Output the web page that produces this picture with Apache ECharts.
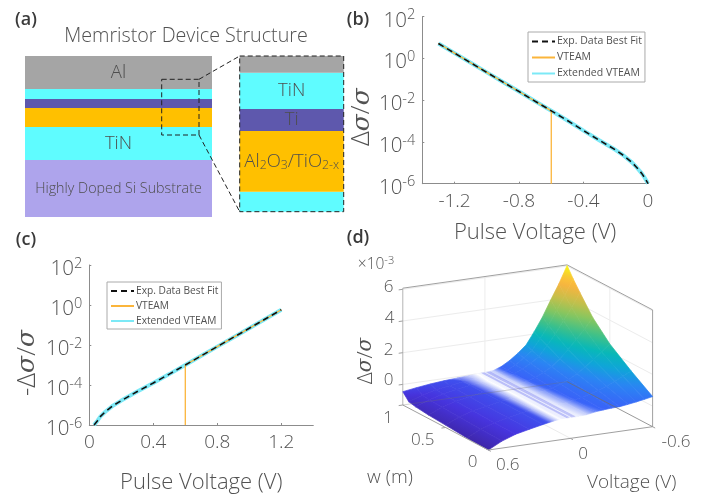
<!DOCTYPE html>
<html><head><meta charset="utf-8">
<style>html,body{margin:0;padding:0;background:#fff}#c{width:717px;height:495px}</style>
<script src="https://cdn.jsdelivr.net/npm/echarts@6/dist/echarts.min.js"></script>
</head><body><div id="c"></div>
<script>
// ---------- panel (b) ----------
const bVoltages=[-1.3,-1.2,-1.1,-1.0,-0.9,-0.8,-0.7,-0.6,-0.5,-0.4,-0.3,-0.2,-0.15,-0.1,-0.07,-0.04,-0.02,-0.005,0];
const bResponse=[5.2,1.8,0.62,0.215,0.074,0.026,0.0089,0.0031,0.00107,0.00035,0.000118,0.000041,0.000022,0.0000105,0.000006,0.0000032,0.0000019,0.0000012,0.000001];
const bVteamVoltages=[-1.3,-1.2,-1.1,-1.0,-0.9,-0.8,-0.7,-0.6,-0.6];
const bVteam=[5.2,1.8,0.62,0.215,0.074,0.026,0.0089,0.0031,0.000001];
const bTicks=[-1.2,-0.8,-0.4,0];
// ---------- panel (c) ----------
const cVoltages=[0.03,0.05,0.07,0.1,0.15,0.2,0.3,0.4,0.5,0.6,0.7,0.8,0.9,1.0,1.1,1.2];
const cResponse=[0.000001,0.0000016,0.0000027,0.0000046,0.0000095,0.0000166,0.000047,0.000126,0.00035,0.001,0.0029,0.0083,0.024,0.069,0.2,0.58];
const cVteamVoltages=[0.6,0.6,0.7,0.8,0.9,1.0,1.1,1.2];
const cVteam=[0.000001,0.001,0.0029,0.0083,0.024,0.069,0.2,0.58];
const cTicks=[0,0.4,0.8,1.2];
// ---------- panel (a) ----------
const stackNames=['Highly Doped Si Substrate','TiN','Al2O3/TiO2-x','Ti','TiN top','Al'];
const stackThickness=[57,33,19,9,10,33];
const insetNames=['TiN bottom','Oxide','Ti inset','TiN inset','Al inset'];
const insetThickness=[20,60.7,22,36.3,16.7];
// ---------- panel (d) ----------
const surfaceVoltages=[-0.6,-0.54,-0.48,-0.42,-0.36,-0.3,-0.24,-0.18,-0.12,-0.06,-0.02,0.02,0.06,0.12,0.2,0.3,0.4,0.5,0.6];
const surfaceWidths=[0,0.25,0.5,0.7,0.85,0.93,1];
const surfaceValues=[
[0.6,1.5,2.5,3.6,4.75,5.4,6.03],
[0.5,1.24,2.06,2.95,3.88,4.42,4.95],
[0.41,1.01,1.67,2.38,3.14,3.57,4.0],
[0.33,0.77,1.26,1.8,2.36,2.68,3.0],
[0.26,0.57,0.92,1.3,1.7,1.92,2.15],
[0.24,0.42,0.62,0.86,1.09,1.23,1.38],
[0.2,0.28,0.42,0.57,0.73,0.83,0.93],
[0.15,0.19,0.24,0.33,0.44,0.49,0.55],
[0.05,0.09,0.13,0.17,0.21,0.23,0.25],
[0.02,0.03,0.04,0.05,0.06,0.06,0.06],
[0.01,0.01,0.02,0.02,0.03,0.03,0.03],
[0.02,0.02,0.02,0.02,0.02,0.02,0.02],
[0.02,0.02,0.01,0.01,0.01,0.0,0.0],
[-0.05,-0.05,-0.05,-0.05,-0.04,-0.04,-0.04],
[-0.18,-0.17,-0.15,-0.13,-0.12,-0.11,-0.08],
[-0.36,-0.35,-0.32,-0.3,-0.27,-0.25,-0.14],
[-0.55,-0.53,-0.49,-0.46,-0.43,-0.39,-0.22],
[-0.86,-0.83,-0.76,-0.72,-0.66,-0.61,-0.33],
[-1.3,-1.25,-1.15,-1.08,-0.99,-0.9,-0.46]];
const stripeVoltages=[-0.036,-0.028,-0.02,-0.012,0.008,0.016,0.024];
const zTicks=[0,2,4,6];

const FONT='"Open Sans",sans-serif', TXT='#525252';
// projection of the panel (d) box to the page
const O=[488.3,450],EV=[164.3,-23.3],EW=[-85.5,-45],ZMIN=-1.3,ZMAX=6.07,ZPX=15.85;
function proj(v,w,z){const t=(0.6-v)/1.2;return [O[0]+t*EV[0]+w*EW[0],O[1]+t*EV[1]+w*EW[1]-(z-ZMIN)*ZPX];}
const parula=[[0,[62,38,168]],[.1,[70,52,222]],[.2,[58,98,248]],[.3,[42,133,243]],[.38,[15,165,216]],[.46,[8,184,184]],[.55,[61,192,138]],[.65,[134,198,95]],[.75,[198,191,74]],[.86,[251,180,63]],[.93,[248,208,48]],[1,[249,251,14]]];
function colorAt(z){
  const f=Math.max(0,Math.min(1,(z-ZMIN)/(ZMAX-ZMIN)));
  let k=0;while(k<parula.length-2&&f>parula[k+1][0])k++;
  const a=parula[k],b=parula[k+1],u=(f-a[0])/(b[0]-a[0]);
  const c=a[1].map((x,i)=>x+(b[1][i]-x)*u);
  const white=z<0?1-Math.min(1,-z/0.12):1-Math.min(1,z/0.2);
  return 'rgb('+c.map(x=>Math.round(x+(255-x)*white)).join(',')+')';
}
function cellStyle(ps,zs){
  const du=[(ps[1][0]+ps[2][0]-ps[0][0]-ps[3][0])/2,(ps[1][1]+ps[2][1]-ps[0][1]-ps[3][1])/2],dzu=(zs[1]+zs[2]-zs[0]-zs[3])/2;
  const dv=[(ps[2][0]+ps[3][0]-ps[0][0]-ps[1][0])/2,(ps[2][1]+ps[3][1]-ps[0][1]-ps[1][1])/2],dzv=(zs[2]+zs[3]-zs[0]-zs[1])/2;
  const det=du[0]*dv[1]-du[1]*dv[0];
  const a=(dzu*dv[1]-dzv*du[1])/det,b=(du[0]*dzv-dv[0]*dzu)/det,g=Math.hypot(a,b);
  const c=[(ps[0][0]+ps[1][0]+ps[2][0]+ps[3][0])/4,(ps[0][1]+ps[1][1]+ps[2][1]+ps[3][1])/4],zc=(zs[0]+zs[1]+zs[2]+zs[3])/4;
  if(g<1e-6)return colorAt(zc);
  const n=[a/g,b/g],ts=ps.map(p=>(p[0]-c[0])*n[0]+(p[1]-c[1])*n[1]);
  const t0=Math.min(...ts),t1=Math.max(...ts),stops=[];
  for(let k=0;k<=6;k++){const t=t0+(t1-t0)*k/6;stops.push({offset:k/6,color:colorAt(zc+g*t)});}
  return new echarts.graphic.LinearGradient(c[0]+n[0]*t0,c[1]+n[1]*t0,c[0]+n[0]*t1,c[1]+n[1]*t1,stops,true);
}
const cells=[];
for(let j=surfaceWidths.length-2;j>=0;j--)for(let i=0;i<surfaceVoltages.length-1;i++)cells.push([i,j]);
function renderCell(p,api){
  const i=api.value(0),j=api.value(1);
  const corners=[[i,j],[i+1,j],[i+1,j+1],[i,j+1]];
  const zs=corners.map(q=>surfaceValues[q[0]][q[1]]);
  const ps=corners.map((q,k)=>proj(surfaceVoltages[q[0]],surfaceWidths[q[1]],zs[k]));
  const fill=cellStyle(ps,zs);
  return {type:'polygon',shape:{points:ps},style:{fill:fill,stroke:fill,lineWidth:0.7}};
}
function seg(a,b,c,d,e,f,color,w){return {a:proj(a,b,c),b:proj(d,e,f),color:color,w:w};}
const G='#a0a0a0',L='#ececec';
const backSegs=[];
zTicks.forEach(z=>{backSegs.push(seg(0.6,1,z,-0.6,1,z,L,1));backSegs.push(seg(-0.6,1,z,-0.6,0,z,L,1));});
backSegs.push(seg(0,1,ZMIN,0,1,ZMAX,L,1),seg(-0.6,0.5,ZMIN,-0.6,0.5,ZMAX,L,1),seg(0,1,ZMIN,0,0,ZMIN,L,1),seg(0.6,0.5,ZMIN,-0.6,0.5,ZMIN,L,1));
backSegs.push(seg(0.6,1,ZMAX,-0.6,1,ZMAX,G,1),seg(-0.6,1,ZMAX,-0.6,0,ZMAX,G,1),seg(0.6,1,ZMIN,0.6,1,ZMAX,'#b4b4b4',1),seg(-0.6,0,ZMIN,-0.6,0,ZMAX,G,1));
const frontSegs=[seg(0.6,1,ZMIN,0.6,0,ZMIN,G,1),seg(0.6,0,ZMIN,-0.6,0,ZMIN,G,1),
 seg(0.6,1,ZMIN,-0.6,1,ZMIN,'rgba(110,110,110,0.45)',0.7),seg(-0.6,1,ZMIN,-0.6,0,ZMIN,'rgba(110,110,110,0.7)',1)];
zTicks.forEach(z=>frontSegs.push(seg(0.6,1,z,0.63,1,z,G,1)));
[[0,0],[-0.6,0],[0.6,0]].forEach(q=>frontSegs.push(seg(q[0],0,ZMIN,q[0],-0.03,ZMIN,G,1)));
frontSegs.push(seg(0.6,0.5,ZMIN,0.63,0.5,ZMIN,G,1),seg(0.6,1,ZMIN,0.63,1,ZMIN,G,1));
stripeVoltages.forEach(v=>frontSegs.push(seg(v,0,0.02,v,1,0.02,'rgba(90,100,235,0.55)',0.5)));
const renderSeg=list=>(p,api)=>{const s=list[api.value(0)];return {type:'line',shape:{x1:s.a[0],y1:s.a[1],x2:s.b[0],y2:s.b[1]},style:{stroke:s.color,lineWidth:s.w,fill:null}};};

const toPairs=(x,y)=>x.map((v,i)=>[v,y[i]]);
const NAMES=['Exp. Data Best Fit','VTEAM','Extended VTEAM'];
function curves(gi,xs,ys,vx,vy){return [
  {name:NAMES[2],type:'line',xAxisIndex:gi,yAxisIndex:gi,data:toPairs(xs,ys),showSymbol:false,symbol:'none',z:3,lineStyle:{color:'#7ce9f6',width:4},itemStyle:{color:'#7ce9f6'}},
  {name:NAMES[1],type:'line',xAxisIndex:gi,yAxisIndex:gi,data:toPairs(vx,vy),showSymbol:false,symbol:'none',z:4,lineStyle:{color:'#fbb53b',width:1.3},itemStyle:{color:'#fbb53b'}},
  {name:NAMES[0],type:'line',xAxisIndex:gi,yAxisIndex:gi,data:toPairs(xs,ys),showSymbol:false,symbol:'none',z:5,lineStyle:{color:'#111',width:1.6,type:[6,4]},itemStyle:{color:'#111'}}];}
function legend(l,t,fs){return {data:NAMES,left:l,top:t,orient:'vertical',itemWidth:23,itemHeight:10,itemGap:5,padding:[4,3,3,3],selectedMode:false,
  itemStyle:{opacity:0,borderWidth:0},
  backgroundColor:'#fff',borderColor:'#aaa',borderWidth:1,borderRadius:0,textStyle:{fontFamily:FONT,fontSize:fs,color:TXT,padding:[0,0,0,-3]}};}
const supLabel=v=>{const e=Math.round(Math.log10(v));return '{a|10}{b|'+e+'}';};
const axisText={fontFamily:FONT,fontWeight:300,color:TXT};
function logAxis(gi,name,gap,shift){return {gridIndex:gi,type:'log',logBase:10,min:1e-6,max:100,interval:2,
  name:name,nameLocation:'middle',nameGap:gap,nameTextStyle:{padding:[0,shift,0,0],rich:{a:{fontFamily:FONT,fontSize:26,color:TXT,fontWeight:300},s:{fontFamily:'"DejaVu Serif",serif',fontStyle:'italic',fontSize:25,color:TXT}}},
  axisLine:{show:true,onZero:false,lineStyle:{color:'#8c8c8c',width:1}},axisTick:{show:true,inside:true,length:2,lineStyle:{color:'#8c8c8c'}},minorTick:{show:false},splitLine:{show:false},
  axisLabel:{margin:7,padding:[8,0,0,0],formatter:supLabel,rich:{a:{...axisText,fontSize:20.5},b:{...axisText,fontSize:14.5,padding:[0,0,11,0]}}}};}
function voltAxis(gi,min,max,ticks,gap){return {gridIndex:gi,type:'value',min:min,max:max,name:'Pulse Voltage (V)',nameLocation:'middle',nameGap:gap,
  nameTextStyle:{...axisText,fontSize:22},axisLine:{onZero:false,lineStyle:{color:'#8c8c8c',width:1}},splitLine:{show:false},
  axisTick:{show:true,inside:true,length:2,customValues:ticks,lineStyle:{color:'#8c8c8c'}},
  axisLabel:{...axisText,fontSize:19,margin:8,customValues:ticks,showMinLabel:true,showMaxLabel:true,formatter:v=>v===0?'0':v.toFixed(1)}};}
const hideX=gi=>({gridIndex:gi,type:'category',data:['stack'],show:false});
const hideY=(gi,max)=>({gridIndex:gi,type:'value',min:0,max:max,show:false});
const sum=a=>a.reduce((x,y)=>x+y,0);
const layerColors=['#aea4ec','#5ffcff','#ffc000','#5e58ad','#5ffcff','#a5a5a5'];
const insetColors=['#5ffcff','#ffc000','#5e58ad','#5ffcff','#a5a5a5'];
const layerLabel=(txt,size)=>({show:!!txt,position:'inside',formatter:txt,fontFamily:FONT,fontSize:size,color:'#4e4e4e',fontWeight:300,
  rich:{t:{fontFamily:FONT,fontSize:size,color:'#4e4e4e',fontWeight:300},s:{fontFamily:FONT,fontSize:size*0.66,color:'#4e4e4e',fontWeight:300,padding:[8,0,0,0]}}});
const mainLabels={'Highly Doped Si Substrate':['Highly Doped Si Substrate',14.3],'TiN':['TiN',18.5],'Al':['Al',18.5]};
const insetLabels={'TiN inset':['TiN',18.5],'Ti inset':['Ti',18.5],'Oxide':['{t|Al}{s|2}{t|O}{s|3}{t|/TiO}{s|2-x}',18.5]};
const barSeries=[];
stackNames.forEach((n,i)=>{const m=mainLabels[n]||[];barSeries.push({name:n,type:'bar',stack:'main',xAxisIndex:0,yAxisIndex:0,barWidth:'100%',data:[stackThickness[i]],itemStyle:{color:layerColors[i]},label:layerLabel(m[0],m[1]),silent:true});});
insetNames.forEach((n,i)=>{const m=insetLabels[n]||[];barSeries.push({name:n,type:'bar',stack:'inset',xAxisIndex:1,yAxisIndex:1,barWidth:'100%',data:[insetThickness[i]],itemStyle:{color:insetColors[i]},label:layerLabel(m[0],m[1]),silent:true});});

const dash={stroke:'#222',lineWidth:1,lineDash:[5,3]};
const T=(x,y,text,size,opt)=>({type:'text',z:20,x:x,y:y,style:Object.assign({text:text,fontFamily:FONT,fontSize:size,fontWeight:300,fill:TXT,align:'center',verticalAlign:'middle'},opt||{})});
const graphics=[
 T(26,20,'(a)',18,{fontWeight:600,fill:'#3a3a3a'}),T(358,20,'(b)',18,{fontWeight:600,fill:'#3a3a3a'}),
 T(26,240,'(c)',18,{fontWeight:600,fill:'#3a3a3a'}),T(358,238,'(d)',18,{fontWeight:600,fill:'#3a3a3a'}),
 T(186,36,'Memristor Device Structure',19.7),
 {type:'rect',z:20,shape:{x:161.7,y:79.3,width:37.3,height:55.7},style:{...dash,fill:null}},
 {type:'rect',z:20,shape:{x:239.7,y:56,width:104,height:155.7},style:{...dash,fill:null}},
 {type:'line',z:20,shape:{x1:199,y1:79.3,x2:239.7,y2:56},style:dash},
 {type:'line',z:20,shape:{x1:199,y1:135,x2:239.7,y2:211.7},style:dash},
 T(376,265,'{m|×10}{e|-3}',16,{rich:{m:{fontFamily:FONT,fontSize:15.5,fill:TXT,fontWeight:300},e:{fontFamily:FONT,fontSize:11,fill:TXT,fontWeight:300,padding:[0,0,8,0]}}}),
 T(388.7,287,'6',17),T(389.5,318,'4',17),T(388.7,350,'2',17),T(388.7,380,'0',17),
 T(388,418,'1',17),T(422.7,440,'0.5',17),T(472.7,462,'0',17),
 T(507.7,465,'0.6',17),T(583,454,'0',17),T(676,442,'-0.6',17),
 T(390,478,'w (m)',19),T(631.7,483,'Voltage (V)',19),
 {type:'text',z:20,x:366,y:361,rotation:Math.PI/2,style:{text:'{a|Δ}{s|σ}{a|/}{s|σ}',align:'center',verticalAlign:'middle',rich:{a:{fontFamily:FONT,fontSize:21,fill:TXT,fontWeight:300},s:{fontFamily:'"DejaVu Serif",serif',fontStyle:'italic',fontSize:20,fill:TXT}}}}
];
const option={animation:false,backgroundColor:'#fff',
 grid:[{left:25,top:56,width:187,height:161},{left:239.7,top:56,width:104,height:155.7},
       {left:422.3,top:16.7,width:225.7,height:167},{left:89.3,top:265,width:224,height:166.3}],
 xAxis:[hideX(0),hideX(1),voltAxis(2,-1.4,0,bTicks,38),voltAxis(3,0,1.4,cTicks,47)],
 yAxis:[hideY(0,sum(stackThickness)),hideY(1,sum(insetThickness)),
   logAxis(2,'{a|Δ}{s|σ}{a|/}{s|σ}',42,34),logAxis(3,'{a|-Δ}{s|σ}{a|/}{s|σ}',49,36)],
 legend:[legend(528,32,10.5),legend(107,282,10.2)],
 graphic:graphics,
 series:[...barSeries,...curves(2,bVoltages,bResponse,bVteamVoltages,bVteam),...curves(3,cVoltages,cResponse,cVteamVoltages,cVteam),
  {type:'custom',name:'box back',coordinateSystem:'none',silent:true,z:1,data:backSegs.map((s,i)=>[i]),renderItem:renderSeg(backSegs),progressive:0},
  {type:'custom',name:'surface',coordinateSystem:'none',silent:true,z:2,data:cells,renderItem:renderCell,progressive:0},
  {type:'custom',name:'box front',coordinateSystem:'none',silent:true,z:3,data:frontSegs.map((s,i)=>[i]),renderItem:renderSeg(frontSegs),progressive:0}]
};
echarts.init(document.getElementById('c'),null,{renderer:'canvas'}).setOption(option);
</script></body></html>
